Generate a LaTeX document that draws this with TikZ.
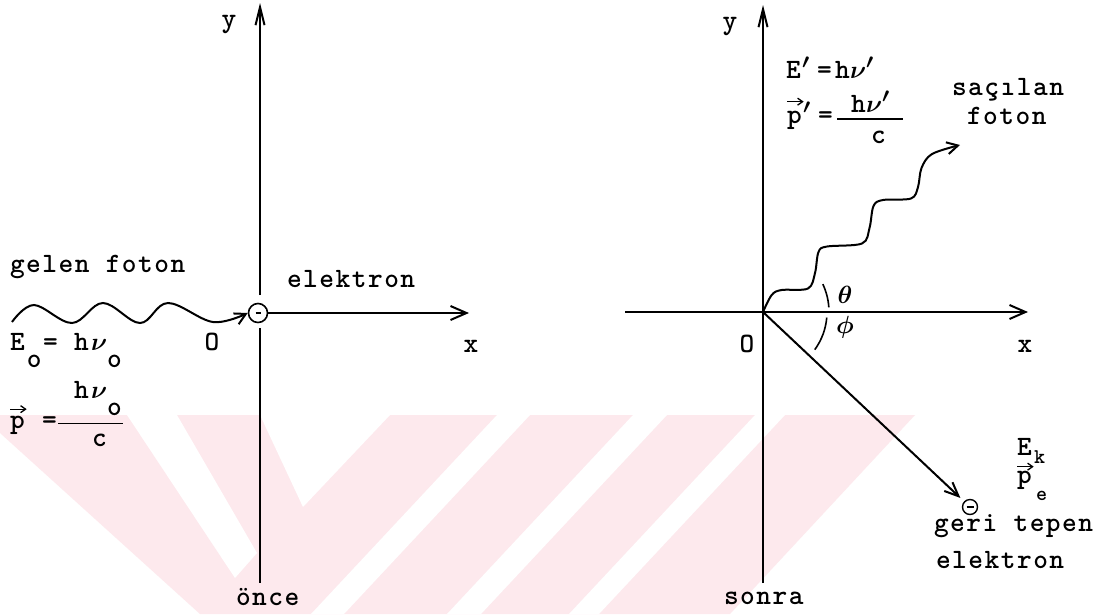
\documentclass[tikz,border=0pt]{standalone}
\usepackage{fontspec}
\usetikzlibrary{arrows.meta,calc}
\newfontfamily\tw{lmmonolt10-bold.otf}[LetterSpace=5.4]
\newfontfamily\twb{lmmonolt10-bold.otf}
\definecolor{wmpink}{RGB}{253,233,237}
\begin{document}
\begin{tikzpicture}[x=1pt,y=-1pt,
  ax/.style={line width=2pt},
  xarrow/.style={-{Straight Barb[length=16pt,width=14pt]}},
  yarrow/.style={-{Straight Barb[length=18pt,width=9pt]}},
  parrow/.style={-{Straight Barb[length=11pt,width=12pt]}},
  earrow/.style={-{Straight Barb[length=14pt,width=12pt]}},
  varr/.style={line width=1.3pt, -{Straight Barb[length=5pt,width=7pt]}},
  lbl/.style={font=\tw\fontsize{28}{33}\selectfont\boldmath, inner sep=0pt, outer sep=0pt, anchor=base west},
  lblc/.style={lbl, anchor=base},
  sub/.style={font=\twb\fontsize{21}{25}\selectfont, inner sep=0pt, outer sep=0pt, anchor=base west},
  elec/.style={circle, draw, line width=1.6pt, inner sep=0pt},
  thin/.style={line width=1.6pt}]
\useasboundingbox (0,0) rectangle (1095,614);
\fill[white] (0,0) rectangle (1095,614);
% watermark
\fill[wmpink] (0,415) -- (915,415) -- (730,614) -- (200,614) -- (0,433) -- cycle;
\fill[white] (127,415) -- (177,415) -- (257,553) -- (235,578) -- cycle;
\fill[white] (260,415) -- (390,415) -- (303,507) -- cycle;
\fill[white] (497,415) -- (530,415) -- (344,614) -- (311,614) -- cycle;
\fill[white] (633,415) -- (667,415) -- (481,614) -- (447,614) -- cycle;
\fill[white] (755,415) -- (785,415) -- (599,614) -- (569,614) -- cycle;

% ---------------- left panel ----------------
\coordinate (yt1) at (260,3);
\coordinate (yb1) at (260,583);
\coordinate (yg1) at (260,295);
\coordinate (yg2) at (260,328);
\coordinate (xt1) at (469,313);
\coordinate (ps) at (12,322);
\node[elec, minimum size=19pt] (e1) at (258,313) {\rule{5pt}{1.5pt}};
\draw[ax, yarrow] (yg1) -- (yt1);
\draw[ax] (yg2) -- (yb1);
\draw[ax, xarrow] (e1.east) -- (xt1);
\draw[ax, parrow] plot[smooth, tension=0.6] coordinates {(ps) (34,305) (72,323) (103,303) (140,323) (168,303) (213,322) (e1.west)};

\node[lblc] (y1) at (229,27) {y};
\node[lbl] (gelen) at (10,272) {gelen foton};
\node[lbl] (elek1) at (287,287) {elektron};
\node[lblc] (O1) at (212,350) {O};
\node[lblc] (x1) at (471,352) {x};

\node[lbl] (E0) at (10,350) {E};
\node[lbl] (E0s) at (27,367) {o};
\node[lbl] (E0eq) at (43,350) {=};
\node[lbl] (E0h) at (74,350) {h};
\node[lbl] (E0nu) at (91,350) {$\nu$};
\node[lbl] (E0s2) at (107,367) {o};

\node[lbl] (p0) at (10,428.5) {p};
\draw[varr] ($(p0.north west)+(0,-7)$) -- ($(p0.north east)+(2,-7)$);
\node[lbl] (p0eq) at (42,428.5) {=};
\draw[thin] (58,423.5) -- (123,423.5);
\node[lbl] (p0h) at (74,398) {h};
\node[lbl] (p0nu) at (91,398) {$\nu$};
\node[lbl] (p0s) at (107,415) {o};
\node[lbl] (p0c) at (92,446) {c};

\node[lbl] (once) at (236,605) {önce};

% ---------------- right panel ----------------
\coordinate (O2) at (763,312);
\coordinate (yt2) at (763,5);
\coordinate (yb2) at (763,583);
\coordinate (xl2) at (625,312);
\coordinate (xt2) at (1028,312);
\coordinate (sp) at (960,145);
\draw[ax, yarrow] (yb2) -- (yt2);
\draw[ax, xarrow] (xl2) -- (xt2);
\node[elec, minimum size=15pt, line width=1.4pt] (e2) at (970,507) {\rule{7pt}{1.3pt}};
\draw[ax, earrow, shorten >=5pt] (O2) -- (e2);
\draw[ax, parrow] plot[smooth, tension=0.55] coordinates {(O2) (771.7,295) (781.7,290) (808,288.5) (815,273) (818.5,252) (827,246.5) (862,243.5) (869.5,228) (873.5,206) (883,200) (911,198.5) (918,187) (921.5,168) (932,154) (sp)};
\draw[thin] (O2) ++(-4:66) arc[start angle=-4, end angle=-25, radius=66];
\draw[thin] (O2) ++(5:64) arc[start angle=5, end angle=36, radius=64];

\node[lblc] (y2) at (730,29) {y};
\node[lblc] (O2l) at (747,352) {O};
\node[lblc] (x2) at (1025,352) {x};
\node[lblc] (th) at (845,303) {$\theta$};
\node[lblc] (ph) at (845,333) {$\phi$};

\node[lbl] (Ep) at (786,78) {E};
\node[lbl] (Eppr) at (802,78) {$'$};
\node[lbl] (Epeq) at (817,78) {=};
\node[lbl] (Eph) at (835,78) {h};
\node[lbl] (Epnu) at (850,78) {$\nu'$};

\node[lbl] (p1) at (787,123) {p};
\draw[varr] ($(p1.north west)+(0,-9)$) -- ($(p1.north east)+(2,-9)$);
\node[lbl] (p1pr) at (803,123) {$'$};
\node[lbl] (p1eq) at (818,123) {=};
\draw[thin] (837,119) -- (903,119);
\node[lbl] (p1h) at (851,112) {h};
\node[lbl] (p1nu) at (866,112) {$\nu'$};
\node[lbl] (p1c) at (871,143) {c};

\node[lbl] (sac) at (952,95) {saçılan};
\node[lbl] (fot) at (967,124) {foton};

\node[lbl] (Ek) at (1017,455) {E};
\node[sub] (Eks) at (1034,463) {k};
\node[lbl] (pe) at (1017,483) {p};
\draw[varr] ($(pe.north west)+(0,-4)$) -- ($(pe.north east)+(2,-4)$);
\node[sub] (pes) at (1036,500) {e};

\node[lbl] (geri) at (934,531) {geri tepen};
\node[lbl] (elek2) at (936,568) {elektron};
\node[lbl] (sonra) at (724,604) {sonra};
\end{tikzpicture}
\end{document}
